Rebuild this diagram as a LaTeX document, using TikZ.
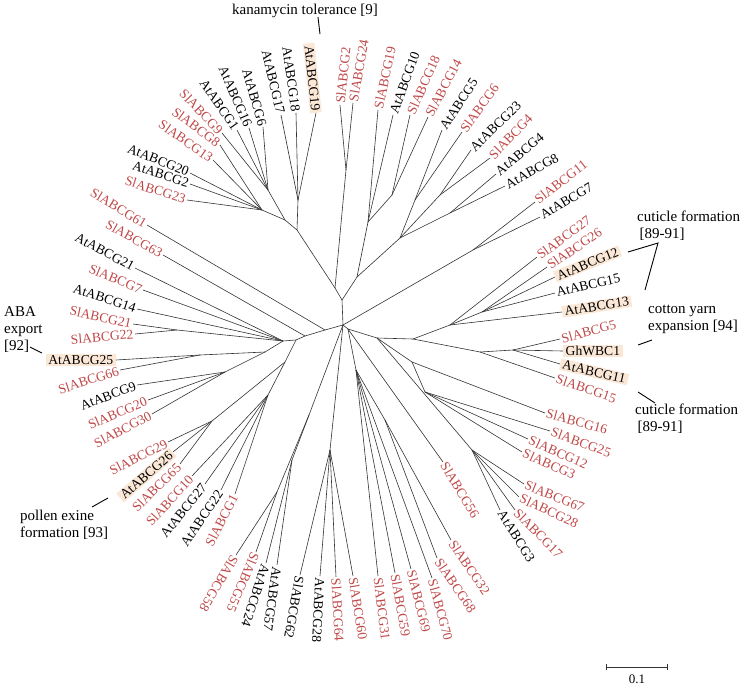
\documentclass[tikz,border=0pt]{standalone}
\usepackage{fontspec}
\setmainfont{Liberation Serif}
\definecolor{slred}{RGB}{192,72,72}
\definecolor{peach}{RGB}{251,231,214}
\tikzset{
  br/.style={line width=0.6pt, draw=black!80},
  lab/.style={font=\fontsize{13.6}{14}\selectfont, inner sep=1.5pt},
  slk/.style={text=slred},
  atk/.style={text=black},
  hlk/.style={fill=peach, text=black, inner xsep=2.5pt, inner ysep=1.2pt},
  ann/.style={font=\fontsize{15}{17}\selectfont, align=left, inner sep=0pt},
  lead/.style={line width=0.9pt, draw=black},
}
\newcommand\inode[3]{\coordinate (#1) at (#2); \draw[br] (#3) -- (#1);}
\newcommand\lf[6]{%
  \coordinate (#1) at (#3);
  \draw[br] (#2) -- (#1);
  \pgfmathtruncatemacro\flipit{((#4>95)&&(#4<245))?1:0}%
  \ifnum\flipit=1\relax
    \pgfmathsetmacro\rr{#4-180}%
    \node[lab,#6,anchor=east,rotate=\rr] (#1t) at (#1) {#5};%
  \else
    \node[lab,#6,anchor=west,rotate=#4] (#1t) at (#1) {#5};%
  \fi}
\begin{document}
\begin{tikzpicture}[x=1pt,y=-1pt]
\useasboundingbox (0,0) rectangle (740,686);
\coordinate (C0) at (343,325);
% ---- top
\inode{U}{342,300}{C0}
\inode{U2}{335,288}{U}
\inode{T6}{346,170}{U2}
\lf{SlABCG2}{T6}{340,105}{84}{SlABCG2}{slk}
\lf{SlABCG24}{T6}{353,103}{80}{SlABCG24}{slk}
\inode{T1}{297,230}{U2}
\inode{T2}{285,220}{T1}
\inode{T3}{298,200}{T1}
\lf{AtABCG17}{T3}{281,115}{103}{AtABCG17}{atk}
\lf{AtABCG18}{T3}{296,113}{98}{AtABCG18}{atk}
\lf{AtABCG19}{T3}{316,113}{96}{AtABCG19}{hlk}
\inode{T4}{268,190}{T2}
\lf{SlABCG9}{T4}{222,133}{134}{SlABCG9}{slk}
\lf{AtABCG1}{T4}{237,130}{125}{AtABCG1}{atk}
\lf{AtABCG16}{T4}{249,128}{113.5}{AtABCG16}{atk}
\lf{AtABCG6}{T4}{263,127}{106}{AtABCG6}{atk}
\inode{T5}{262,210}{T2}
\lf{SlABCG8}{T5}{220,145}{143}{SlABCG8}{slk}
\lf{SlABCG13}{T5}{213,160}{145}{SlABCG13}{slk}
\lf{AtABCG20}{T5}{190,173}{158}{AtABCG20}{atk}
\lf{AtABCG2}{T5}{190,184}{162}{AtABCG2}{atk}
\lf{SlABCG23}{T5}{187,200}{162}{SlABCG23}{slk}
% ---- upper right
\inode{UR}{357,277}{U}
\inode{V1}{368,222}{UR}
\lf{SlABCG19}{V1}{378,110}{78}{SlABCG19}{slk}
\lf{AtABCG10}{V1}{393,115}{70}{AtABCG10}{atk}
\inode{V1b}{392,195}{V1}
\lf{SlABCG18}{V1b}{410,115}{66}{SlABCG18}{slk}
\lf{SlABCG14}{V1b}{428,117}{62}{SlABCG14}{slk}
\inode{V2}{400,238}{UR}
\inode{V2a}{415,200}{V2}
\lf{AtABCG5}{V2a}{442,130}{57}{AtABCG5}{atk}
\lf{SlABCG6}{V2a}{462,132}{54}{SlABCG6}{slk}
\inode{V2c}{440,195}{V2}
\lf{AtABCG23}{V2c}{471,150}{44}{AtABCG23}{atk}
\lf{SlABCG4}{V2c}{490,158}{46}{SlABCG4}{slk}
\inode{V2b}{450,213}{V2}
\lf{AtABCG4}{V2b}{496,174}{40}{AtABCG4}{atk}
\lf{AtABCG8}{V2b}{505,186}{29}{AtABCG8}{atk}
\inode{W1}{473,250}{C0}
\lf{SlABCG11}{W1}{535,202}{38}{SlABCG11}{slk}
\lf{AtABCG7}{W1}{540,217}{31}{AtABCG7}{atk}
% ---- right
\inode{R0}{348,329}{C0}
\inode{R1}{377,338}{R0}
\inode{R2}{413,339}{R1}
\inode{R3}{450,325}{R2}
\lf{SlABCG27}{R3}{537,257}{36}{SlABCG27}{slk}
\inode{R3a}{482,312}{R3}
\lf{SlABCG26}{R3a}{547,267}{34}{SlABCG26}{slk}
\lf{AtABCG12}{R3a}{555,277}{22}{AtABCG12}{hlk}
\lf{AtABCG15}{R3a}{555,293}{13}{AtABCG15}{atk}
\lf{AtABCG13}{R3}{562,312}{9}{AtABCG13}{hlk}
\inode{R4}{480,352}{R2}
\inode{R4a}{513,350}{R4}
\lf{SlABCG5}{R4a}{560,339}{15}{SlABCG5}{slk}
\lf{GhWBC1}{R4a}{563,351}{0}{GhWBC1}{hlk}
\lf{AtABCG11}{R4a}{560,364}{-13}{AtABCG11}{hlk}
\lf{SlABCG15}{R4}{555,378}{-19}{SlABCG15}{slk}
\inode{C1}{412,362}{R1}
\lf{SlABCG16}{C1}{545,413}{-15}{SlABCG16}{slk}
\inode{C2}{425,392}{C1}
\lf{SlABCG25}{C2}{550,431}{-20}{SlABCG25}{slk}
\lf{SlABCG12}{C2}{528,439}{-24}{SlABCG12}{slk}
\lf{SlABCG3}{C2}{522,452}{-24}{SlABCG3}{slk}
\inode{D}{472,450}{R1}
\lf{SlABCG67}{D}{524,484}{-22}{SlABCG67}{slk}
\lf{SlABCG28}{D}{519,497}{-25}{SlABCG28}{slk}
\lf{SlABCG17}{D}{515,510}{-45}{SlABCG17}{slk}
\lf{AtABCG3}{D}{500,510}{-58}{AtABCG3}{atk}
\lf{SlABCG56}{R0}{443,462}{-59}{SlABCG56}{slk}
% ---- bottom
\inode{M}{356,370}{R0}
\inode{M2}{385,420}{M}
\lf{SlABCG32}{M2}{451,540}{-56}{SlABCG32}{slk}
\lf{SlABCG68}{M2}{437,558}{-56}{SlABCG68}{slk}
\lf{SlABCG70}{M}{432,578}{-75}{SlABCG70}{slk}
\lf{SlABCG69}{M}{411,569}{-76}{SlABCG69}{slk}
\lf{SlABCG59}{M}{395,573}{-80}{SlABCG59}{slk}
\lf{SlABCG31}{M}{378,576}{-83}{SlABCG31}{slk}
\inode{B1}{330,450}{C0}
\lf{SlABCG60}{B1}{353,576}{-81}{SlABCG60}{slk}
\lf{SlABCG64}{B1}{336,577}{-87}{SlABCG64}{slk}
\lf{AtABCG28}{B1}{320,576}{-93}{AtABCG28}{atk}
\lf{SlABCG62}{B1}{300,575}{-100}{SlABCG62}{atk}
\inode{BL0}{309,415}{C0}
\inode{B2}{292,460}{BL0}
\lf{AtABCG57}{B2}{277,565}{-98}{AtABCG57}{atk}
\lf{AtABCG24}{B2}{266,563}{-108}{AtABCG24}{atk}
\inode{BL1}{277,492}{BL0}
\lf{SlABCG55}{BL1}{256,552}{-113}{SlABCG55}{slk}
\lf{SlABCG58}{BL1}{236,555}{-121}{SlABCG58}{slk}
% ---- left
\inode{L1}{325,330}{C0}
\lf{SlABCG61}{L1}{147,225}{149}{SlABCG61}{slk}
\inode{L1b}{305,336}{L1}
\lf{SlABCG63}{L1b}{163,255}{150.6}{SlABCG63}{slk}
\inode{L2}{296,340}{L1b}
\inode{L3}{283,341}{L2}
\lf{AtABCG21}{L3}{135,268}{152}{AtABCG21}{atk}
\lf{SlABCG7}{L3}{143,290}{157.4}{SlABCG7}{slk}
\lf{AtABCG14}{L3}{137,309}{161.6}{AtABCG14}{atk}
\inode{N1}{177,330}{L3}
\lf{SlABCG21}{N1}{133,324}{167.6}{SlABCG21}{slk}
\lf{SlABCG22}{N1}{135,334}{185}{SlABCG22}{slk}
\inode{K}{265,352}{L3}
\inode{K1}{200,355}{K}
\lf{AtABCG25}{K1}{116,360}{180}{AtABCG25}{hlk}
\lf{SlABCG66}{K1}{120,370}{198}{SlABCG66}{slk}
\inode{K2}{225,372}{K}
\lf{AtABCG9}{K2}{137,385}{200.7}{AtABCG9}{atk}
\lf{SlABCG20}{K2}{148,400}{203}{SlABCG20}{slk}
\lf{SlABCG30}{K2}{152,414}{207.7}{SlABCG30}{slk}
\inode{LL0}{285,362}{L2}
\inode{LLa}{212,421}{LL0}
\lf{SlABCG29}{LLa}{168,442}{207}{SlABCG29}{slk}
\lf{AtABCG26}{LLa}{173,452}{221}{AtABCG26}{hlk}
\lf{SlABCG65}{LLa}{180,464}{225}{SlABCG65}{slk}
\inode{LLb}{268,395}{LL0}
\lf{SlABCG10}{LLb}{192,476}{227.6}{SlABCG10}{slk}
\lf{AtABCG27}{LLb}{205,484}{231}{AtABCG27}{atk}
\lf{AtABCG22}{LLb}{221,490}{236}{AtABCG22}{atk}
\lf{SlABCG1}{LLb}{235,494}{243}{SlABCG1}{slk}
% ---- annotations
\node[ann,anchor=base] (kana) at (305,14) {kanamycin tolerance [9]};
\coordinate (ka1) at (318,17); \coordinate (ka2) at (320,34);
\draw[lead] (ka1) -- (ka2);
\node[ann,anchor=north west] (cut1) at (637,211) {cuticle formation\\\,[89-91]};
\coordinate (cu1) at (628,252); \coordinate (cu2) at (658,243); \coordinate (cu3) at (645,290);
\draw[lead] (cu1) -- (cu2) -- (cu3);
\node[ann,anchor=north west] (cot) at (648,305) {cotton yarn\\expansion [94]};
\coordinate (co1) at (638,345); \coordinate (co2) at (652,340);
\draw[lead] (co1) -- (co2);
\node[ann,anchor=north west] (cut2) at (635,404) {cuticle formation\\\,[89-91]};
\coordinate (cl1) at (638,392); \coordinate (cl2) at (655,403);
\draw[lead] (cl1) -- (cl2);
\node[ann,anchor=north west] (aba) at (4,306) {ABA\\export\\{[92]}};
\coordinate (ab1) at (30,347); \coordinate (ab2) at (42,353);
\draw[lead] (ab1) -- (ab2);
\node[ann,anchor=north west] (pol) at (20,510) {pollen exine\\formation [93]};
\coordinate (po1) at (92,507); \coordinate (po2) at (108,498);
\draw[lead] (po1) -- (po2);
% ---- scale bar
\coordinate (sb1) at (606,667); \coordinate (sb2) at (667,667);
\draw[br] (sb1) -- (sb2);
\draw[br] ([yshift=3pt]sb1) -- ([yshift=-3pt]sb1);
\draw[br] ([yshift=3pt]sb2) -- ([yshift=-3pt]sb2);
\node[font=\fontsize{13}{13}\selectfont, anchor=north, inner sep=0pt] (sbl) at (637,675) {0.1};
\end{tikzpicture}
\end{document}
